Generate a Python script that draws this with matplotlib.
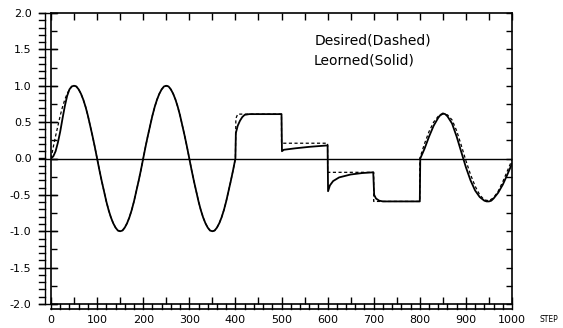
import numpy as np
import matplotlib
matplotlib.use("Agg")
import matplotlib.pyplot as plt
from matplotlib.ticker import MultipleLocator
import matplotlib.transforms as mtrans

# ---------------- data ----------------
# one period (200 steps) of the wave, sampled every 5 steps
wave_period = [0, 0.16, 0.31, 0.45, 0.59, 0.71, 0.81, 0.89, 0.95, 0.99,
               1.0, 0.99, 0.95, 0.89, 0.81, 0.71, 0.59, 0.45, 0.31, 0.16,
               0, -0.16, -0.31, -0.45, -0.59, -0.71, -0.81, -0.89, -0.95, -0.99,
               -1.0, -0.99, -0.95, -0.89, -0.81, -0.71, -0.59, -0.45, -0.31, -0.16]

desired_step = list(range(0, 400, 5)) + [400, 401, 405, 500, 500, 600, 600, 700, 700, 800, 800,
                                         810, 820, 830, 840, 850, 860, 870, 880, 890, 900,
                                         910, 920, 930, 940, 950, 960, 970, 980, 990, 1000]
desired_value = wave_period + wave_period + [0.0, 0.55, 0.61, 0.61, 0.21, 0.21, -0.19, -0.19, -0.59, -0.59, 0.0,
                                             0.2, 0.37, 0.5, 0.58, 0.61, 0.6, 0.53, 0.38, 0.18, -0.03,
                                             -0.22, -0.38, -0.5, -0.57, -0.58, -0.54, -0.45, -0.32, -0.17, -0.02]

learned_start = [0, 0.03, 0.1, 0.22, 0.37, 0.55, 0.72, 0.86, 0.95, 0.99, 1.0]
learned_step = list(range(0, 400, 5)) + \
    [400, 401, 405, 410, 415, 420, 430, 500, 501, 505, 530, 560, 598, 600,
     601, 605, 612, 625, 650, 675, 699, 701, 705, 712, 720, 800,
     801, 810, 820, 830, 840, 845, 850, 855, 860, 870, 880, 890, 900,
     910, 920, 930, 940, 945, 950, 955, 960, 970, 980, 990, 1000]
learned_value = learned_start + (wave_period + wave_period)[11:] + \
    [0.0, 0.35, 0.45, 0.52, 0.57, 0.6, 0.61, 0.61, 0.1, 0.12, 0.14, 0.16, 0.18, 0.18,
     -0.45, -0.37, -0.31, -0.26, -0.22, -0.2, -0.19, -0.5, -0.55, -0.58, -0.59, -0.59,
     0.0, 0.13, 0.3, 0.45, 0.56, 0.6, 0.62, 0.61, 0.58, 0.48, 0.3, 0.09, -0.12,
     -0.3, -0.44, -0.53, -0.58, -0.59, -0.59, -0.58, -0.55, -0.47, -0.36, -0.22, -0.07]

x_ticks = [0, 100, 200, 300, 400, 500, 600, 700, 800, 900, 1000]
y_ticks = [-2.0, -1.5, -1.0, -0.5, 0.0, 0.5, 1.0, 1.5, 2.0]

# ---------------- figure ----------------
W, H = 563, 328
fig = plt.figure(figsize=(W / 100, H / 100), dpi=100)
L, R, T, B = 51, 512, 13, 304
ax = fig.add_axes([L / W, 1 - B / H, (R - L) / W, (B - T) / H])

ax.plot(desired_step, desired_value, color="black", lw=0.9, ls=(0, (2.5, 2)))
ax.plot(learned_step, learned_value, color="black", lw=1.3)
ax.axhline(0, color="black", lw=1.0)

ax.set_xlim(0, 1000)
ax.set_ylim(-2, 2)
for s in ax.spines.values():
    s.set_linewidth(1.2)

ax.xaxis.set_major_locator(plt.FixedLocator(x_ticks))
ax.xaxis.set_minor_locator(MultipleLocator(50))
ax.yaxis.set_major_locator(plt.FixedLocator(y_ticks))
ax.yaxis.set_minor_locator(MultipleLocator(0.25))
ax.set_xticklabels([str(v) for v in x_ticks])
ax.set_yticklabels(["%.1f" % v for v in y_ticks])
ax.tick_params(axis="x", which="both", direction="in", top=True, length=5, width=1.0,
               labelsize=8, pad=8)
ax.tick_params(axis="y", which="both", direction="in", right=True, length=4, width=1.0,
               labelsize=8, pad=14)

# bottom ruler band
px_y = 1.0 / (B - T)
px_x = 1.0 / (R - L)
tx = mtrans.blended_transform_factory(ax.transData, ax.transAxes)
band = -5 * px_y
ax.plot([0, 1000], [band, band], transform=tx, color="black", lw=1.2, clip_on=False)
for xv in range(0, 1001, 20):
    ax.plot([xv, xv], [0, band], transform=tx, color="black", lw=1.0, clip_on=False)

# left ruler band
ty = mtrans.blended_transform_factory(ax.transAxes, ax.transData)
lb = -6 * px_x
ax.plot([lb, lb], [-2, 2], transform=ty, color="black", lw=1.0, clip_on=False)
for yv in np.arange(-2.0, 2.001, 0.1):
    ax.plot([lb - 6 * px_x, lb], [yv, yv], transform=ty, color="black", lw=1.0, clip_on=False)
for yv in y_ticks:
    ax.plot([lb - 6 * px_x, 6 * px_x], [yv, yv], transform=ty, color="black", lw=1.0, clip_on=False)

fig.text(315 / W, 1 - 40 / H, "Desired(Dashed)", fontsize=10, va="center", ha="left")
fig.text(314 / W, 1 - 60 / H, "Leorned(Solid)", fontsize=10, va="center", ha="left")
fig.text(549 / W, 1 - 320 / H, "STEP", fontsize=5.5, va="center", ha="center")

fig.savefig("out.png", dpi=100)
